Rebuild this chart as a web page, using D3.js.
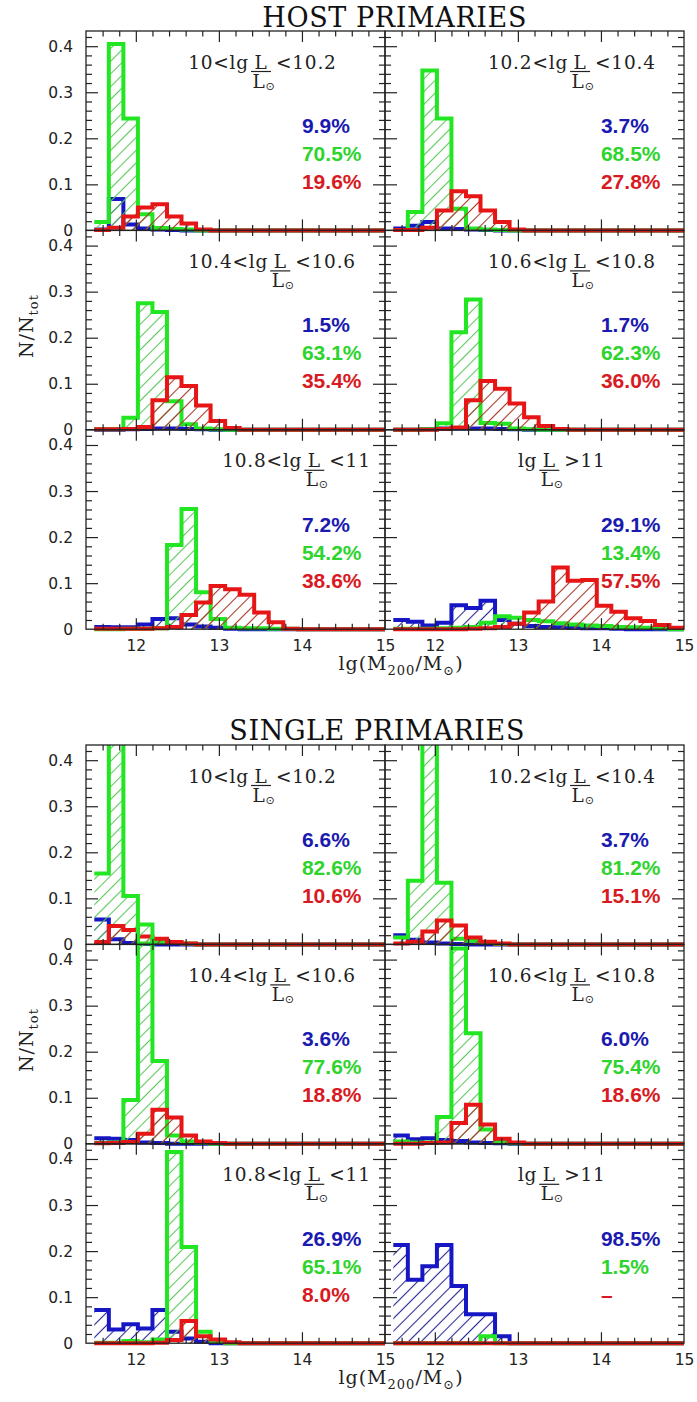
<!DOCTYPE html>
<html>
<head>
<meta charset="utf-8">
<script src="https://cdn.jsdelivr.net/npm/d3@7"></script>
<style>
body { margin: 0; background: #fff; }
.tick text { font-family: "DejaVu Sans"; font-size: 15.5px; fill: #222; }
.lum { font-family: "DejaVu Serif"; font-size: 18.5px; fill: #222; letter-spacing: 0.8px; }
.sun { font-family: "DejaVu Sans"; font-size: 11px; letter-spacing: 0; }
.pct { font-family: "Liberation Sans"; font-weight: bold; font-size: 21px; }
.title { font-family: "DejaVu Serif"; font-size: 27px; fill: #111; letter-spacing: 0.6px; }
.axlabel { font-family: "DejaVu Serif"; font-size: 19px; fill: #222; letter-spacing: 1px; }
.sub { font-size: 13px; }
</style>
</head>
<body>
<svg id="chart"></svg>
<script>
// bin edges of the histograms, lg(M200/Msun)
const binEdges = [11.5, 11.675, 11.85, 12.025, 12.2, 12.375, 12.55, 12.725, 12.9, 13.075,
  13.25, 13.425, 13.6, 13.775, 13.95, 14.125, 14.3, 14.475, 14.65, 14.825, 15];

// luminosity bins, one per panel (lower, upper)
const lumBins = [["10", "10.2"], ["10.2", "10.4"], ["10.4", "10.6"], ["10.6", "10.8"], ["10.8", "11"], [null, "11"]];

// HOST PRIMARIES: N/Ntot per mass bin
const hostBlue = [
  [0.002, 0.068, 0.013, 0.004, 0.002, 0.001, 0, 0, 0, 0, 0, 0, 0, 0, 0, 0, 0, 0, 0, 0],
  [0.004, 0.010, 0.018, 0.004, 0.003, 0.002, 0.001, 0, 0, 0, 0, 0, 0, 0, 0, 0, 0, 0, 0, 0],
  [0, 0, 0.001, 0.002, 0.003, 0.003, 0.002, 0.001, 0, 0, 0, 0, 0, 0, 0, 0, 0, 0, 0, 0],
  [0, 0, 0.001, 0.003, 0.003, 0.003, 0.003, 0.002, 0.001, 0, 0, 0, 0, 0, 0, 0, 0, 0, 0, 0],
  [0.005, 0.004, 0.004, 0.010, 0.022, 0.024, 0.010, 0.006, 0.003, 0.001, 0, 0, 0, 0, 0, 0, 0, 0, 0, 0],
  [0.020, 0.016, 0.008, 0.014, 0.052, 0.046, 0.062, 0.020, 0.012, 0.007, 0.005, 0.004, 0.003, 0.002, 0.002, 0.001, 0, 0, 0, 0]
];
const hostGreen = [
  [0.018, 0.405, 0.243, 0.035, 0.005, 0.003, 0.002, 0, 0, 0, 0, 0, 0, 0, 0, 0, 0, 0, 0, 0],
  [0.001, 0.040, 0.347, 0.243, 0.047, 0.004, 0.002, 0.001, 0, 0, 0, 0, 0, 0, 0, 0, 0, 0, 0, 0],
  [0.001, 0.001, 0.026, 0.275, 0.256, 0.062, 0.012, 0.003, 0.001, 0, 0, 0, 0, 0, 0, 0, 0, 0, 0, 0],
  [0, 0, 0.001, 0.014, 0.212, 0.283, 0.015, 0.013, 0.003, 0.001, 0, 0, 0, 0, 0, 0, 0, 0, 0, 0],
  [0, 0, 0.001, 0.001, 0.002, 0.183, 0.261, 0.080, 0.022, 0.003, 0.002, 0.002, 0.001, 0.001, 0, 0, 0, 0, 0, 0],
  [0.001, 0.001, 0.001, 0.002, 0.003, 0.005, 0.014, 0.028, 0.025, 0.020, 0.017, 0.013, 0.010, 0.008, 0.007, 0.005, 0.004, 0.003, 0.002, 0]
];
const hostRed = [
  [0.001, 0.006, 0.030, 0.050, 0.057, 0.030, 0.015, 0.002, 0, 0, 0, 0, 0, 0, 0, 0, 0, 0, 0, 0],
  [0.001, 0.001, 0.006, 0.043, 0.085, 0.074, 0.043, 0.018, 0.002, 0, 0, 0, 0, 0, 0, 0, 0, 0, 0, 0],
  [0.001, 0.001, 0.002, 0.006, 0.064, 0.114, 0.095, 0.053, 0.019, 0.004, 0, 0, 0, 0, 0, 0, 0, 0, 0, 0],
  [0, 0, 0, 0.002, 0.005, 0.064, 0.106, 0.089, 0.057, 0.027, 0.008, 0.002, 0, 0, 0, 0, 0, 0, 0, 0],
  [0.001, 0.001, 0.001, 0.001, 0.002, 0.005, 0.031, 0.058, 0.094, 0.087, 0.075, 0.036, 0.015, 0.001, 0, 0, 0, 0, 0, 0],
  [0, 0, 0, 0, 0, 0.001, 0.002, 0.005, 0.012, 0.036, 0.060, 0.134, 0.105, 0.107, 0.051, 0.038, 0.024, 0.018, 0.009, 0.003]
];
const hostPct = [
  ["9.9%", "70.5%", "19.6%"], ["3.7%", "68.5%", "27.8%"], ["1.5%", "63.1%", "35.4%"],
  ["1.7%", "62.3%", "36.0%"], ["7.2%", "54.2%", "38.6%"], ["29.1%", "13.4%", "57.5%"]
];

// SINGLE PRIMARIES
const singleBlue = [
  [0.054, 0.011, 0.003, 0.001, 0, 0, 0, 0, 0, 0, 0, 0, 0, 0, 0, 0, 0, 0, 0, 0],
  [0.020, 0.010, 0.004, 0.002, 0.001, 0, 0, 0, 0, 0, 0, 0, 0, 0, 0, 0, 0, 0, 0, 0],
  [0.012, 0.011, 0.008, 0.003, 0.002, 0, 0, 0, 0, 0, 0, 0, 0, 0, 0, 0, 0, 0, 0, 0],
  [0.018, 0.010, 0.012, 0.008, 0.006, 0.003, 0.002, 0.001, 0, 0, 0, 0, 0, 0, 0, 0, 0, 0, 0, 0],
  [0.072, 0.030, 0.041, 0.032, 0.072, 0.025, 0.010, 0.003, 0, 0, 0, 0, 0, 0, 0, 0, 0, 0, 0, 0],
  [0.213, 0.138, 0.167, 0.213, 0.124, 0.063, 0.063, 0.015, 0, 0, 0, 0, 0, 0, 0, 0, 0, 0, 0, 0]
];
const singleGreen = [
  [0.154, 0.557, 0.105, 0.002, 0.006, 0.004, 0.002, 0, 0, 0, 0, 0, 0, 0, 0, 0, 0, 0, 0, 0],
  [0.015, 0.138, 0.495, 0.134, 0.012, 0.008, 0.004, 0.001, 0, 0, 0, 0, 0, 0, 0, 0, 0, 0, 0, 0],
  [0.002, 0.003, 0.095, 0.476, 0.180, 0.018, 0.005, 0.002, 0, 0, 0, 0, 0, 0, 0, 0, 0, 0, 0, 0],
  [0.005, 0.003, 0.003, 0.058, 0.424, 0.240, 0.031, 0.005, 0.001, 0, 0, 0, 0, 0, 0, 0, 0, 0, 0, 0],
  [0.001, 0.001, 0.005, 0.002, 0.008, 0.415, 0.209, 0.025, 0.004, 0, 0, 0, 0, 0, 0, 0, 0, 0, 0, 0],
  [0, 0, 0, 0, 0, 0, 0.015, 0, 0, 0, 0, 0, 0, 0, 0, 0, 0, 0, 0, 0]
];
const singleRed = [
  [0.005, 0.040, 0.031, 0.017, 0.012, 0.005, 0.002, 0, 0, 0, 0, 0, 0, 0, 0, 0, 0, 0, 0, 0],
  [0.002, 0.006, 0.028, 0.052, 0.041, 0.015, 0.006, 0.002, 0, 0, 0, 0, 0, 0, 0, 0, 0, 0, 0, 0],
  [0.001, 0.002, 0.004, 0.022, 0.074, 0.057, 0.018, 0.005, 0.002, 0, 0, 0, 0, 0, 0, 0, 0, 0, 0, 0],
  [0, 0, 0.002, 0.003, 0.045, 0.085, 0.042, 0.011, 0.003, 0, 0, 0, 0, 0, 0, 0, 0, 0, 0, 0],
  [0, 0, 0, 0, 0.001, 0.007, 0.048, 0.015, 0.008, 0.002, 0, 0, 0, 0, 0, 0, 0, 0, 0, 0],
  [0, 0, 0, 0, 0, 0, 0, 0, 0, 0, 0, 0, 0, 0, 0, 0, 0, 0, 0, 0]
];
const singlePct = [
  ["6.6%", "82.6%", "10.6%"], ["3.7%", "81.2%", "15.1%"], ["3.6%", "77.6%", "18.8%"],
  ["6.0%", "75.4%", "18.6%"], ["26.9%", "65.1%", "8.0%"], ["98.5%", "1.5%", "\u2013"]
];

const yTickLabels = [0, 0.1, 0.2, 0.3, 0.4];
const xTickLabels = [12, 13, 14, 15];

// layout
const left0 = 86, panelW = 299, rowH = 199.4;
const labelX = [12.63, 12.64, 12.63, 12.64, 13.04, 13.0];   // where the L-range text starts (data units)
const pctY = [0.212, 0.151, 0.09];
const colors = {blue: "#1616c4", green: "#22e622", red: "#e61616"};
const textColors = {blue: "#1a1ab0", green: "#2ed42e", red: "#d81a22"};
const hatchColors = {blue: "#2a2a96", green: "#5cc85c", red: "#a8382a"};

const svg = d3.select("#chart").attr("width", 697).attr("height", 1402);
const defs = svg.append("defs");

Object.entries(hatchColors).forEach(([k, c]) => {
  const p = defs.append("pattern")
    .attr("id", "hatch-" + k)
    .attr("patternUnits", "userSpaceOnUse")
    .attr("width", 9).attr("height", 9)
    .attr("patternTransform", "rotate(45)");
  p.append("line").attr("x1", 4.5).attr("y1", 0).attr("x2", 4.5).attr("y2", 9)
    .attr("stroke", c).attr("stroke-width", 1.1);
});

const figures = [
  {top: 31, title: "HOST PRIMARIES", titleX: 527, titleY: 27, blue: hostBlue, green: hostGreen, red: hostRed, pct: hostPct},
  {top: 745, title: "SINGLE PRIMARIES", titleX: 525, titleY: 740, blue: singleBlue, green: singleGreen, red: singleRed, pct: singlePct}
];

const stepPoints = vals => vals.flatMap((v, i) => [[binEdges[i], v], [binEdges[i + 1], v]]);

figures.forEach((fig, fi) => {
  const clipId = "clip" + fi;
  defs.append("clipPath").attr("id", clipId).append("rect")
    .attr("x", left0).attr("y", fig.top)
    .attr("width", panelW * 2).attr("height", rowH * 3 + 3);

  svg.append("text").attr("class", "title")
    .attr("x", fig.titleX).attr("y", fig.titleY)
    .attr("text-anchor", "end").text(fig.title);

  const histLayer = svg.append("g").attr("clip-path", "url(#" + clipId + ")");
  const axisLayer = svg.append("g");

  lumBins.forEach((lb, i) => {
    const row = Math.floor(i / 2), col = i % 2;
    const x = d3.scaleLinear().domain([11.4, 15])
      .range([left0 + col * panelW, left0 + (col + 1) * panelW]);
    const y = d3.scaleLinear().domain([0, 0.433])
      .range([fig.top + (row + 1) * rowH, fig.top + row * rowH]);

    const line = d3.line().x(d => x(d[0])).y(d => y(d[1]));
    const area = d3.area().x(d => x(d[0])).y0(y(0)).y1(d => y(d[1]));

    ["blue", "green", "red"].forEach(k => {
      const pts = stepPoints(fig[k][i]);
      histLayer.append("path").attr("d", area(pts))
        .attr("fill", "url(#hatch-" + k + ")").attr("stroke", "none");
      histLayer.append("path").attr("d", line(pts))
        .attr("fill", "none").attr("stroke", colors[k])
        .attr("stroke-width", 4).attr("stroke-linejoin", "miter");
    });

    // frame + inward ticks on all sides
    const g = axisLayer.append("g");
    g.append("rect")
      .attr("x", x.range()[0]).attr("y", y.range()[1])
      .attr("width", panelW).attr("height", rowH)
      .attr("fill", "none").attr("stroke", "#222").attr("stroke-width", 1.3);

    const xMinor = d3.range(1, 18).map(j => 11.4 + 0.2 * j).filter(v => Math.abs(v - Math.round(v)) > 0.01);
    const xMajor = [12, 13, 14];
    const yMinor = d3.range(1, 22).filter(j => j % 5 !== 0).map(j => 0.02 * j);
    const yMajor = [0.1, 0.2, 0.3, 0.4];

    const tickSet = [
      [d3.axisBottom(x).tickValues(xMinor).tickSize(-5.5), y.range()[0]],
      [d3.axisBottom(x).tickValues(xMajor).tickSize(-11), y.range()[0]],
      [d3.axisTop(x).tickValues(xMinor).tickSize(-5.5), y.range()[1]],
      [d3.axisTop(x).tickValues(xMajor).tickSize(-11), y.range()[1]]
    ];
    tickSet.forEach(([ax, ty]) => {
      g.append("g").attr("transform", "translate(0," + ty + ")")
        .call(ax.tickFormat(""))
        .call(s => s.select(".domain").remove())
        .selectAll("line").attr("stroke", "#222").attr("stroke-width", 1.2);
    });
    const yTickSet = [
      [d3.axisLeft(y).tickValues(yMinor).tickSize(-6), x.range()[0]],
      [d3.axisLeft(y).tickValues(yMajor).tickSize(-12), x.range()[0]],
      [d3.axisRight(y).tickValues(yMinor).tickSize(-6), x.range()[1]],
      [d3.axisRight(y).tickValues(yMajor).tickSize(-12), x.range()[1]]
    ];
    yTickSet.forEach(([ax, tx]) => {
      g.append("g").attr("transform", "translate(" + tx + ",0)")
        .call(ax.tickFormat(""))
        .call(s => s.select(".domain").remove())
        .selectAll("line").attr("stroke", "#222").attr("stroke-width", 1.2);
    });

    if (col === 0) {
      g.append("g").attr("transform", "translate(" + x.range()[0] + ",0)")
        .call(d3.axisLeft(y).tickValues(yTickLabels).tickSize(0).tickPadding(13)
          .tickFormat(d => d === 0 ? "0" : d3.format(".1f")(d)))
        .call(s => s.select(".domain").remove());
    }
    if (row === 2) {
      g.append("g").attr("transform", "translate(0," + y.range()[0] + ")")
        .call(d3.axisBottom(x).tickValues(xTickLabels).tickSize(0).tickPadding(11).tickFormat(d3.format("d")))
        .call(s => s.select(".domain").remove());
    }

    // luminosity range label:  lo<lg L/L⊙<hi
    const x0 = x(labelX[i]), y0 = fig.top + row * rowH + 37.5;
    const pre = g.append("text").attr("class", "lum").attr("x", x0).attr("y", y0)
      .text(lb[0] ? lb[0] + "<lg" : "lg");
    const fx = x0 + pre.node().getComputedTextLength() + 2;
    g.append("text").attr("class", "lum").attr("x", fx + 10).attr("y", y0)
      .attr("text-anchor", "middle").text("L");
    g.append("line").attr("x1", fx).attr("x2", fx + 20).attr("y1", y0 + 3).attr("y2", y0 + 3)
      .attr("stroke", "#222").attr("stroke-width", 1.2);
    const den = g.append("text").attr("class", "lum").attr("x", fx + 1.5).attr("y", y0 + 19);
    den.append("tspan").text("L");
    den.append("tspan").attr("class", "sun").attr("dy", 2).text("\u2299");
    g.append("text").attr("class", "lum").attr("x", fx + 25).attr("y", y0)
      .text((lb[0] ? "<" : ">") + lb[1]);

    // fractions
    ["blue", "green", "red"].forEach((k, j) => {
      g.append("text").attr("class", "pct")
        .attr("x", x(14.0)).attr("y", y(pctY[j]))
        .attr("fill", textColors[k]).text(fig.pct[i][j]);
    });
  });

  // axis titles
  const midY = fig.top + rowH * 1.5 - 4;
  const yl = svg.append("text").attr("class", "axlabel")
    .attr("transform", "translate(33," + midY + ") rotate(-90)")
    .attr("text-anchor", "middle");
  yl.append("tspan").text("N/N");
  yl.append("tspan").attr("class", "sub").attr("dy", 5).text("tot");

  const xl = svg.append("text").attr("class", "axlabel")
    .attr("x", 401).attr("y", fig.top + rowH * 3 + 41)
    .attr("text-anchor", "middle");
  xl.append("tspan").text("lg(M");
  xl.append("tspan").attr("class", "sub").attr("dy", 5).text("200");
  xl.append("tspan").attr("dy", -5).text("/M");
  xl.append("tspan").attr("class", "sub").attr("dy", 5).text("\u2299");
  xl.append("tspan").attr("dy", -5).text(")");
});
</script>
</body>
</html>
